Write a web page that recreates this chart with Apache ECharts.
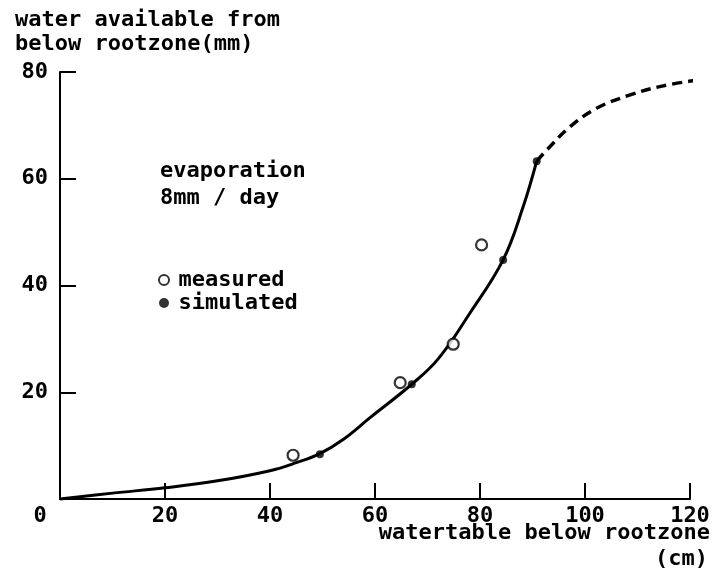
<!DOCTYPE html>
<html>
<head>
<meta charset="utf-8">
<script src="https://cdn.jsdelivr.net/npm/echarts@6/dist/echarts.min.js"></script>
<style>
html,body{margin:0;padding:0;background:#fff;}
#chart{width:718px;height:571px;}
</style>
</head>
<body>
<div id="chart"></div>
<script>
// ---- data ----
var xTicks = [0, 20, 40, 60, 80, 100, 120];
var yTicks = [0, 20, 40, 60, 80];
var measuredX = [44.4, 64.8, 74.9, 80.3];
var measuredY = [8.2, 21.8, 29.0, 47.6];
var simulatedX = [49.5, 67.0, 84.4, 90.8];
var simulatedY = [8.4, 21.5, 44.8, 63.3];
var curveSolidX = [0, 10, 20, 30, 40, 45, 49.5, 54, 59, 67, 72, 78, 84.4, 88.2, 90.8];
var curveSolidY = [0, 1.1, 2.1, 3.4, 5.3, 6.8, 8.5, 11.2, 15.2, 21.5, 26.2, 34.7, 44.8, 54.7, 63.3];
var curveDashX = [90.8, 93.3, 97.1, 102.2, 108.6, 114.9, 121.6];
var curveDashY = [63.3, 66.0, 69.7, 73.2, 75.7, 77.4, 78.5];

function pairs(xs, ys) { return xs.map(function (x, i) { return [x, ys[i]]; }); }

var FONT = '"DejaVu Sans Mono", monospace';
var INK = '#000';

var chart = echarts.init(document.getElementById('chart'), null, {renderer: 'canvas'});
chart.setOption({
  backgroundColor: '#fff',
  animation: false,
  textStyle: {fontFamily: FONT, color: INK, fontWeight: 'bold'},
  title: [
    {text: 'water available from\nbelow rootzone(mm)', left: 15, top: 8, padding: 0,
     textStyle: {fontFamily: FONT, fontSize: 22, fontWeight: 'bold', color: INK, lineHeight: 24}},
    {text: 'evaporation\n8mm / day', left: 160, top: 158, padding: 0,
     textStyle: {fontFamily: FONT, fontSize: 22, fontWeight: 'bold', color: INK, lineHeight: 27}},
    {text: 'watertable below rootzone', right: 8, top: 521, padding: 0,
     textStyle: {fontFamily: FONT, fontSize: 22, fontWeight: 'bold', color: INK, lineHeight: 24}},
    {text: '(cm)', right: 10, top: 547, padding: 0,
     textStyle: {fontFamily: FONT, fontSize: 22, fontWeight: 'bold', color: INK, lineHeight: 24}}
  ],
  legend: {
    orient: 'vertical', left: 158, top: 269, padding: 0, itemGap: 1,
    itemWidth: 19, itemHeight: 10,
    textStyle: {fontFamily: FONT, fontSize: 22, fontWeight: 'bold', color: INK, lineHeight: 22},
    data: [
      {name: 'measured', icon: 'circle', itemStyle: {color: '#fff', borderColor: INK, borderWidth: 2}},
      {name: 'simulated', icon: 'circle', itemStyle: {color: INK, borderWidth: 0}}
    ]
  },
  grid: {left: 60, right: 28, top: 72, bottom: 72, containLabel: false},
  xAxis: {
    type: 'value', min: 0, max: 120, interval: 20,
    axisLine: {show: true, onZero: false, lineStyle: {color: INK, width: 2}},
    axisTick: {show: true, inside: true, length: 16, lineStyle: {color: INK, width: 2}},
    splitLine: {show: false},
    axisLabel: {
      fontFamily: FONT, fontSize: 22, fontWeight: 'bold', color: INK, margin: 6, lineHeight: 22,
      showMinLabel: true, showMaxLabel: true,
      formatter: function (v) { return v === 0 ? '{z|0}' : String(v); },
      rich: {z: {fontFamily: FONT, fontSize: 22, fontWeight: 'bold', color: INK, padding: [0, 40, 0, 0]}}
    }
  },
  yAxis: {
    type: 'value', min: 0, max: 80, interval: 20,
    axisLine: {show: true, onZero: false, lineStyle: {color: INK, width: 2}},
    axisTick: {show: true, inside: true, length: 16, lineStyle: {color: INK, width: 2}},
    splitLine: {show: false},
    axisLabel: {
      fontFamily: FONT, fontSize: 22, fontWeight: 'bold', color: INK, margin: 12,
      formatter: function (v) { return v === 0 ? '' : String(v); }
    }
  },
  series: [
    {type: 'line', name: 'curve', data: pairs(curveSolidX, curveSolidY), smooth: 0.4,
     showSymbol: false, symbol: 'none', clip: false, silent: true,
     lineStyle: {color: INK, width: 3}},
    {type: 'line', name: 'curve2', data: pairs(curveDashX, curveDashY), smooth: 0.4,
     showSymbol: false, symbol: 'none', clip: false, silent: true,
     lineStyle: {color: INK, width: 3.5, type: [10, 6]}},
    {type: 'scatter', name: 'measured', data: pairs(measuredX, measuredY), symbol: 'circle', symbolSize: 11,
     itemStyle: {color: '#fff', borderColor: INK, borderWidth: 2.2}, z: 3},
    {type: 'scatter', name: 'simulated', data: pairs(simulatedX, simulatedY), symbol: 'circle', symbolSize: 8,
     itemStyle: {color: INK}, z: 4}
  ]
});
</script>
</body>
</html>
